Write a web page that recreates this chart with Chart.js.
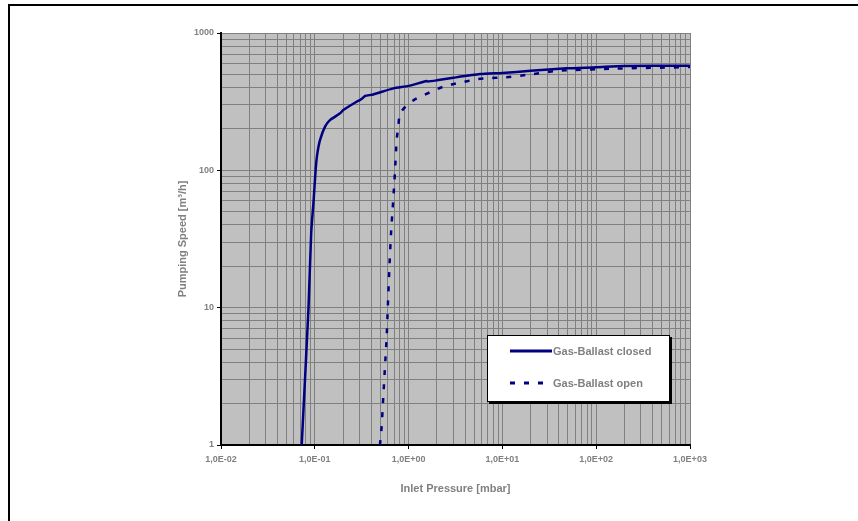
<!DOCTYPE html>
<html>
<head>
<meta charset="utf-8">
<script src="https://cdn.jsdelivr.net/npm/chart.js@4/dist/chart.umd.min.js"></script>
<style>
  html, body { margin: 0; padding: 0; background: #fff; }
  #wrap { position: relative; width: 858px; height: 521px; }
</style>
</head>
<body>
<div id="wrap"><canvas id="c"></canvas></div>
<script>
// ---- data ----
const closedPressure = [0.0725, 0.0857, 0.0915, 0.0972, 0.102, 0.106, 0.1136, 0.1286, 0.145, 0.186, 0.201, 0.279, 0.303, 0.33, 0.343, 0.42, 0.687, 1.0, 1.56, 1.6, 2.0, 3.0, 5.77, 10, 20, 48.4, 100, 194, 1000];
const closedSpeed    = [1, 10, 34.8, 60.8, 100, 130, 166, 208, 232, 260, 275, 316, 325, 340, 348, 357, 395, 412, 447, 443, 452, 472, 502, 512, 530, 553, 563, 575, 578];

const openPressure = [0.495, 0.516, 0.537, 0.56, 0.584, 0.6, 0.625, 0.65, 0.686, 0.716, 0.746, 0.78, 0.81, 0.978, 1.22, 1.69, 2.34, 3.53, 5.3, 6.8, 10.7, 21.4, 39, 151, 776, 1000];
const openSpeed    = [1, 1.36, 2.24, 3.72, 6.14, 10, 20, 35, 61, 98, 166, 215, 260, 302, 334, 370, 406, 435, 460, 468, 476, 502, 531, 550, 563, 565];

const seriesNames = ['Gas-Ballast closed', 'Gas-Ballast open'];

const xTickValues = [0.01, 0.1, 1, 10, 100, 1000];
const xTickLabels = ['1,0E-02', '1,0E-01', '1,0E+00', '1,0E+01', '1,0E+02', '1,0E+03'];
const yTickValues = [1, 10, 100, 1000];
const yTickLabels = ['1', '10', '100', '1000'];

const xTitle = 'Inlet Pressure [mbar]';
const yTitle = 'Pumping Speed [m³/h]';

// ---- helpers ----
const FONT = "Arial, 'Liberation Sans', sans-serif";
const GRAY = '#808080';
const NAVY = '#000080';

function toPoints(xs, ys) { return xs.map((x, i) => ({ x: x, y: ys[i] })); }

function buildLogTicks(majors) {
  return function (scale) {
    const t = [];
    majors.forEach((v, i) => {
      t.push({ value: v, major: true });
      if (i < majors.length - 1) {
        for (let k = 2; k <= 9; k++) t.push({ value: v * k, major: false });
      }
    });
    scale.ticks = t;
  };
}
function labelFor(values, labels) {
  return function (val) {
    for (let i = 0; i < values.length; i++) {
      if (Math.abs(Math.log10(val) - Math.log10(values[i])) < 1e-9) return labels[i];
    }
    return '';
  };
}

const bgPlugin = {
  id: 'bg',
  beforeDraw(chart) {
    const ctx = chart.ctx, a = chart.chartArea;
    ctx.save();
    ctx.fillStyle = '#ffffff';
    ctx.fillRect(0, 0, chart.width, chart.height);
    // outer frame (top and left)
    ctx.fillStyle = '#000';
    ctx.fillRect(8, 4, chart.width - 8, 2);
    ctx.fillRect(8, 4, 2, chart.height - 4);
    // plot area
    ctx.fillStyle = '#c0c0c0';
    ctx.fillRect(a.left, a.top, a.right - a.left, a.bottom - a.top);
    ctx.restore();
  }
};

const legendPlugin = {
  id: 'boxLegend',
  afterDraw(chart) {
    const ctx = chart.ctx, a = chart.chartArea;
    const bx = a.left + 266, by = a.top + 302, bw = 182, bh = 66;
    ctx.save();
    ctx.fillStyle = '#000';
    ctx.fillRect(bx + 2, by + 2, bw + 1, bh + 1);
    ctx.fillStyle = '#fff';
    ctx.fillRect(bx, by, bw, bh);
    ctx.strokeStyle = '#000';
    ctx.lineWidth = 1;
    ctx.strokeRect(bx + 0.5, by + 0.5, bw, bh);
    const ds = chart.data.datasets;
    const rows = [by + 16, by + 48];
    ds.forEach((d, i) => {
      const y = rows[i];
      ctx.beginPath();
      ctx.strokeStyle = d.borderColor;
      ctx.lineWidth = 3;
      ctx.lineCap = 'butt';
      ctx.setLineDash(d.borderDash || []);
      ctx.moveTo(bx + 23, y);
      ctx.lineTo(bx + (i === 0 ? 65 : 61), y);
      ctx.stroke();
      ctx.setLineDash([]);
      ctx.fillStyle = GRAY;
      ctx.font = 'bold 11px ' + FONT;
      ctx.textBaseline = 'middle';
      ctx.textAlign = 'left';
      ctx.fillText(d.label, bx + 66, y + 1);
    });
    ctx.restore();
  }
};

const gridColor = GRAY;
const tickColor = (c) => (c.tick && c.tick.major ? '#000' : 'rgba(0,0,0,0)');

new Chart(document.getElementById('c'), {
  type: 'line',
  data: {
    datasets: [
      {
        label: seriesNames[0],
        data: toPoints(closedPressure, closedSpeed),
        borderColor: NAVY,
        borderWidth: 2.5,
        pointRadius: 0,
        tension: 0.2,
        fill: false
      },
      {
        label: seriesNames[1],
        data: toPoints(openPressure, openSpeed),
        borderColor: NAVY,
        borderWidth: 2.5,
        borderDash: [5, 9],
        borderCapStyle: 'butt',
        pointRadius: 0,
        tension: 0.2,
        fill: false
      }
    ]
  },
  options: {
    responsive: true,
    maintainAspectRatio: false,
    animation: false,
    layout: { padding: { left: 0, top: 33, right: 168, bottom: 0 } },
    plugins: { legend: { display: false }, tooltip: { enabled: false } },
    scales: {
      x: {
        type: 'logarithmic',
        min: 0.01,
        max: 1000,
        afterBuildTicks: buildLogTicks(xTickValues),
        afterFit: (s) => { s.height = 76; },
        ticks: {
          autoSkip: false,
          maxRotation: 0,
          padding: 5,
          color: GRAY,
          font: { family: FONT, size: 9, weight: 'bold' },
          callback: labelFor(xTickValues, xTickLabels)
        },
        grid: { color: gridColor, lineWidth: 1, tickColor: tickColor, tickLength: 4 },
        border: { display: true, color: '#000', width: 2 },
        title: {
          display: true,
          text: xTitle,
          color: GRAY,
          font: { family: FONT, size: 11, weight: 'bold' },
          padding: { top: 0, bottom: 25.4 }
        }
      },
      y: {
        type: 'logarithmic',
        min: 1,
        max: 1000,
        afterBuildTicks: buildLogTicks(yTickValues),
        afterFit: (s) => { s.width = 221; },
        ticks: {
          autoSkip: false,
          padding: 3,
          color: GRAY,
          font: { family: FONT, size: 9, weight: 'bold' },
          callback: labelFor(yTickValues, yTickLabels)
        },
        grid: { color: gridColor, lineWidth: 1, tickColor: tickColor, tickLength: 4 },
        border: { display: true, color: '#000', width: 2 },
        title: {
          display: true,
          text: yTitle,
          color: GRAY,
          font: { family: FONT, size: 11, weight: 'bold' },
          padding: { top: 176.4, bottom: 0 }
        }
      }
    }
  },
  plugins: [bgPlugin, legendPlugin]
});
</script>
</body>
</html>
